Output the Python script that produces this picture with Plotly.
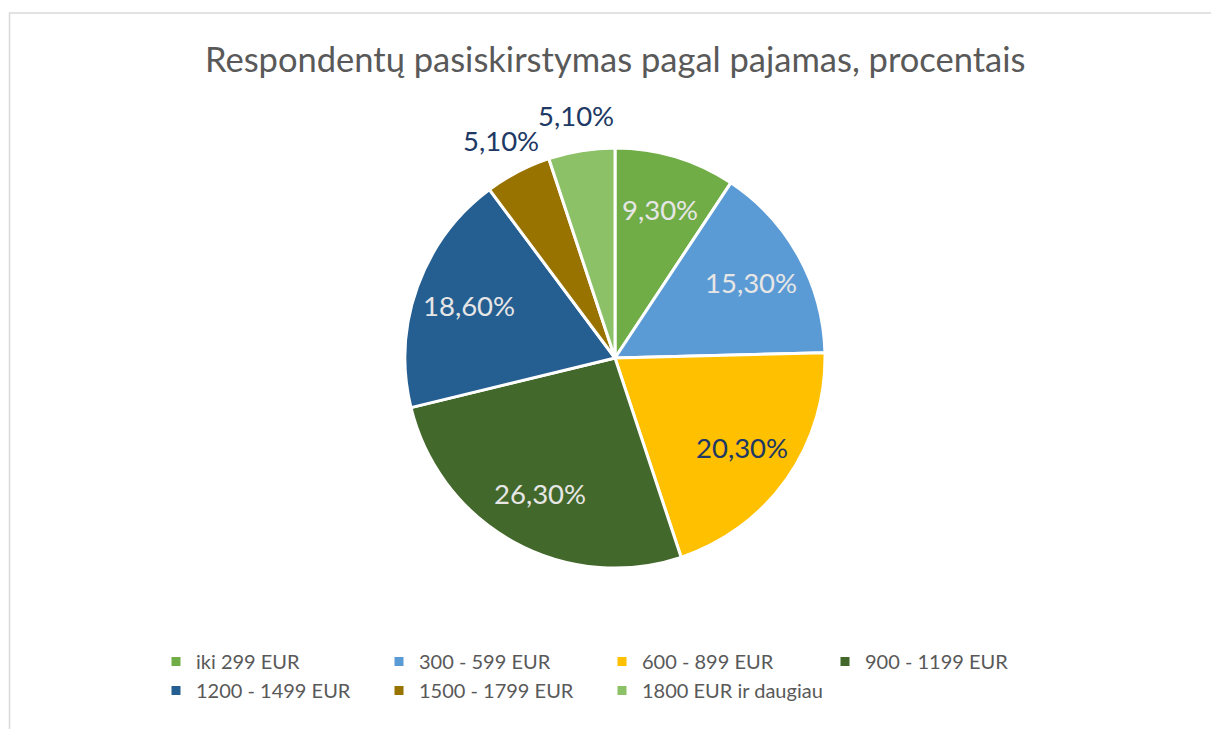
import math
import plotly.graph_objects as go

categories = ["iki 299 EUR", "300 - 599 EUR", "600 - 899 EUR", "900 - 1199 EUR",
              "1200 - 1499 EUR", "1500 - 1799 EUR", "1800 EUR ir daugiau"]
values = [9.3, 15.3, 20.3, 26.3, 18.6, 5.1, 5.1]
colors = ["#70AD47", "#5B9BD5", "#FFC000", "#43682B", "#255E91", "#997300", "#8CC168"]
text_colors = ["#E7E6E6", "#E7E6E6", "#203864", "#E7E6E6", "#E7E6E6", "#203864", "#203864"]
label_places = ["inside", "inside", "inside", "inside", "inside", "outside", "outside"]
title = "Respondentų pasiskirstymas pagal pajamas, procentais"

W, H = 1211, 729
ML, MR = 100, 100          # side margins (plot area narrower than page)
PW = W - ML - MR
FONT = "Lato, 'Open Sans', sans-serif"
CX, CY, R = 615, 358, 210  # pie centre and radius in px


def px_x(px):
    return (px - ML) / PW


def px_y(py):
    return 1 - py / H


fig = go.Figure(go.Pie(
    labels=categories,
    values=values,
    sort=False,
    direction="clockwise",
    rotation=0,
    marker=dict(colors=colors, line=dict(color="white", width=3)),
    textinfo="none",
    hoverinfo="label+value",
    domain=dict(x=[px_x(CX - R), px_x(CX + R)], y=[px_y(CY + R), px_y(CY - R)]),
))

# data labels placed along each slice's mid-angle
total = sum(values)
annotations = []
cum = 0.0
for v, place, col in zip(values, label_places, text_colors):
    mid = (cum + v / 2) / total * 2 * math.pi
    cum += v
    rr = R * (0.74 if place == "inside" else 1.17)
    lx = CX + rr * math.sin(mid)
    ly = CY - rr * math.cos(mid)
    annotations.append(dict(
        x=px_x(lx), y=px_y(ly), xref="paper", yref="paper",
        text=f"{v:.2f}%".replace(".", ","), showarrow=False,
        xanchor="center", yanchor="middle",
        font=dict(family=FONT, size=27.5, color=col)))

fig.update_layout(
    width=W, height=H,
    paper_bgcolor="white",
    margin=dict(l=ML, r=MR, t=0, b=0),
    title=dict(text=title, x=0.508, xanchor="center", y=1 - 60 / H, yanchor="middle",
               font=dict(family=FONT, size=34.5, color="#595959")),
    showlegend=True,
    legend=dict(orientation="h", x=px_x(602), xanchor="center", y=px_y(642), yanchor="top",
                font=dict(family=FONT, size=20, color="#595959"),
                entrywidth=178, entrywidthmode="pixels", traceorder="normal",
                bgcolor="rgba(0,0,0,0)"),
    annotations=annotations,
    shapes=[dict(type="rect", xref="paper", yref="paper", x0=px_x(9.5), x1=px_x(W + 10),
                 y0=-0.05, y1=px_y(13), line=dict(color="#D9D9D9", width=1.5),
                 layer="below")],
)

fig.write_html("out.html", config={"displayModeBar": False},
               post_script="document.body.style.margin='0';document.body.style.padding='0';")
